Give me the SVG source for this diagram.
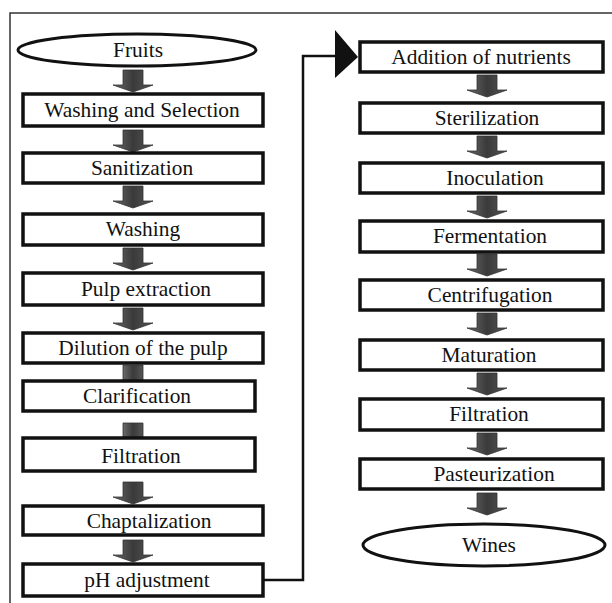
<svg xmlns="http://www.w3.org/2000/svg" width="612" height="603" viewBox="0 0 612 603">
<defs>
<linearGradient id="ag" x1="0" y1="0" x2="1" y2="0">
<stop offset="0" stop-color="#6a6a6a"/>
<stop offset="0.5" stop-color="#3a3a3a"/>
<stop offset="1" stop-color="#555"/>
</linearGradient>
<symbol id="arr" overflow="visible">
<path d="M-10,0 H10 V15 H20 L0,22 L-20,15 H-10 Z" fill="url(#ag)" stroke="#333" stroke-width="0.8"/>
</symbol>
</defs>
<style>
.box{fill:#fff;stroke:#111;stroke-width:3.5}
.el{fill:#fff;stroke:#111;stroke-width:3}
.t{font-family:'Liberation Serif','Times New Roman',serif;font-size:21.4px;fill:#111;text-anchor:middle}
.c{fill:none;stroke:#111;stroke-width:2.5}
</style>
<rect width="612" height="603" fill="#fff"/>
<g id="frame"><path d="M10,603 V13 H612" fill="none" stroke="#333" stroke-width="1.5"/></g>

<g id="connectors">
<use href="#arr" x="133" y="70"/>
<use href="#arr" x="133" y="130"/>
<use href="#arr" x="133" y="186"/>
<use href="#arr" x="133" y="248"/>
<use href="#arr" x="133" y="308"/>
<path d="M123,365 H143 V380 H123 Z" fill="url(#ag)" stroke="#333" stroke-width="0.8"/>
<path d="M123,423 H143 V437 H123 Z" fill="url(#ag)" stroke="#333" stroke-width="0.8"/>
<use href="#arr" x="133" y="482"/>
<use href="#arr" x="133" y="540"/>
<path class="c" d="M263,580 H303 V56 H336"/>
<path d="M335,30 L358,57 L335,78 Z" fill="#111"/>
<use href="#arr" x="487" y="75"/>
<use href="#arr" x="487" y="136"/>
<use href="#arr" x="487" y="196"/>
<use href="#arr" x="487" y="254"/>
<use href="#arr" x="487" y="313"/>
<use href="#arr" x="487" y="373"/>
<use href="#arr" x="487" y="433"/>
<use href="#arr" x="487" y="493"/>
</g>

<g id="n-fruits"><ellipse class="el" cx="137" cy="50" rx="119" ry="16"/><text class="t" x="138" y="57">Fruits</text></g>
<g id="n-washsel"><rect class="box" x="23" y="94" width="240" height="32"/><text class="t" x="142" y="117">Washing and Selection</text></g>
<g id="n-sanit"><rect class="box" x="23" y="153" width="240" height="30"/><text class="t" x="142" y="175">Sanitization</text></g>
<g id="n-washing"><rect class="box" x="23" y="214" width="240" height="31"/><text class="t" x="143" y="236">Washing</text></g>
<g id="n-pulp"><rect class="box" x="23" y="273" width="240" height="32"/><text class="t" x="146" y="296">Pulp extraction</text></g>
<g id="n-dilution"><rect class="box" x="23" y="333" width="240" height="30"/><text class="t" x="143" y="355">Dilution of the pulp</text></g>
<g id="n-clar"><rect class="box" x="23" y="381" width="232" height="30"/><text class="t" x="137" y="403">Clarification</text></g>
<g id="n-filt1"><rect class="box" x="23" y="438" width="232" height="33"/><text class="t" x="141" y="463">Filtration</text></g>
<g id="n-chap"><rect class="box" x="23" y="506" width="240" height="29"/><text class="t" x="149" y="528">Chaptalization</text></g>
<g id="n-ph"><rect class="box" x="23" y="564" width="240" height="32"/><text class="t" x="147" y="587">pH adjustment</text></g>

<g id="n-nutr"><rect class="box" x="360" y="42" width="243" height="30"/><text class="t" x="481" y="64">Addition of nutrients</text></g>
<g id="n-steril"><rect class="box" x="360" y="103" width="243" height="30"/><text class="t" x="487" y="125">Sterilization</text></g>
<g id="n-inoc"><rect class="box" x="360" y="163" width="243" height="30"/><text class="t" x="495" y="185">Inoculation</text></g>
<g id="n-ferm"><rect class="box" x="360" y="221" width="243" height="31"/><text class="t" x="490" y="243">Fermentation</text></g>
<g id="n-centr"><rect class="box" x="360" y="280" width="243" height="30"/><text class="t" x="490" y="302">Centrifugation</text></g>
<g id="n-matur"><rect class="box" x="360" y="340" width="243" height="30"/><text class="t" x="489" y="362">Maturation</text></g>
<g id="n-filt2"><rect class="box" x="360" y="399" width="243" height="31"/><text class="t" x="489" y="421">Filtration</text></g>
<g id="n-past"><rect class="box" x="360" y="459" width="243" height="30"/><text class="t" x="494" y="481">Pasteurization</text></g>
<g id="n-wines"><ellipse class="el" cx="484" cy="545" rx="121" ry="21"/><text class="t" x="489" y="552">Wines</text></g>
</svg>
